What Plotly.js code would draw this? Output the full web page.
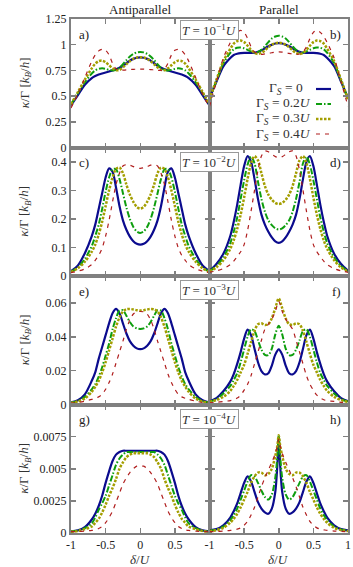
<!DOCTYPE html>
<html>
<head>
<meta charset="utf-8">
<script src="https://cdn.plot.ly/plotly-3.0.1.min.js"></script>
<style>
html,body{margin:0;padding:0;background:#fff;}
#chart{width:353px;height:567px;}
</style>
</head>
<body>
<div id="chart"></div>
<script>
// ---------- data ----------
const X  = [-1,-0.9,-0.8,-0.7,-0.65,-0.6,-0.55,-0.5,-0.45,-0.4,-0.35,-0.3,-0.25,-0.2,-0.15,-0.1,-0.05,0,0.05,0.1,0.15,0.2,0.25,0.3,0.35,0.4,0.45,0.5,0.55,0.6,0.65,0.7,0.8,0.9,1];
const XH = [-1,-0.9,-0.8,-0.7,-0.65,-0.6,-0.55,-0.5,-0.45,-0.4,-0.35,-0.3,-0.25,-0.2,-0.15,-0.1,-0.05,-0.02,0,0.02,0.05,0.1,0.15,0.2,0.25,0.3,0.35,0.4,0.45,0.5,0.55,0.6,0.65,0.7,0.8,0.9,1];

const SERIES_NAMES = ['Γ<sub><i>S</i></sub> = 0','Γ<sub><i>S</i></sub> = 0.2<i>U</i>','Γ<sub><i>S</i></sub> = 0.3<i>U</i>','Γ<sub><i>S</i></sub> = 0.4<i>U</i>'];
const COLUMN_TITLES = ['Antiparallel','Parallel'];
const PANEL_LABELS = ['a)','b)','c)','d)','e)','f)','g)','h)'];
const T_LABELS = ['<i>T</i> = 10<sup>−1</sup><i>U</i>','<i>T</i> = 10<sup>−2</sup><i>U</i>','<i>T</i> = 10<sup>−3</sup><i>U</i>','<i>T</i> = 10<sup>−4</sup><i>U</i>'];
const X_TICKVALS = [-1,-0.5,0,0.5,1];
const X_TICKTEXT_LEFT = ['-1','-0.5','0','0.5',''];
const X_TICKTEXT_RIGHT = ['-1','-0.5','0','0.5','1'];
const Y_RANGES = [[0,1.25],[0,0.45],[0,0.076],[0,0.01]];
const Y_TICKVALS = [[0,0.25,0.5,0.75,1,1.25],[0,0.1,0.2,0.3,0.4],[0,0.02,0.04,0.06],[0,0.0025,0.005,0.0075]];
const Y_TICKTEXT = [['0','0.25','0.5','0.75','1','1.25'],['0','0.1','0.2','0.3','0.4'],['0','0.02','0.04','0.06'],['0','0.0025','0.005','0.0075']];
const Y_TITLE = '<i>κ</i>/Γ [<i>k</i><sub><i>B</i></sub>/<i>h</i>]';
const X_TITLE = '<i>δ</i>/<i>U</i>';

// panel a) antiparallel, T=1e-1
const A_G0 = [0.41,0.51,0.61,0.675,0.695,0.71,0.72,0.73,0.74,0.75,0.76,0.775,0.795,0.82,0.845,0.862,0.873,0.877,0.873,0.862,0.845,0.82,0.795,0.775,0.76,0.75,0.74,0.73,0.72,0.71,0.695,0.675,0.61,0.51,0.41];
const A_G2 = [0.42,0.53,0.635,0.72,0.75,0.765,0.77,0.765,0.755,0.75,0.755,0.775,0.81,0.85,0.885,0.91,0.925,0.93,0.925,0.91,0.885,0.85,0.81,0.775,0.755,0.75,0.755,0.765,0.77,0.765,0.75,0.72,0.635,0.53,0.42];
const A_G3 = [0.42,0.54,0.66,0.77,0.815,0.84,0.845,0.83,0.8,0.77,0.752,0.755,0.78,0.81,0.84,0.862,0.875,0.878,0.875,0.862,0.84,0.81,0.78,0.755,0.752,0.77,0.8,0.83,0.845,0.84,0.815,0.77,0.66,0.54,0.42];
const A_G4 = [0.385,0.52,0.68,0.84,0.9,0.94,0.955,0.945,0.9,0.82,0.765,0.75,0.752,0.755,0.758,0.76,0.762,0.763,0.762,0.76,0.758,0.755,0.752,0.75,0.765,0.82,0.9,0.945,0.955,0.94,0.9,0.84,0.68,0.52,0.385];
// panel b) parallel, T=1e-1
const B_G0 = [0.48,0.64,0.79,0.87,0.9,0.912,0.918,0.92,0.92,0.92,0.922,0.93,0.945,0.965,0.985,1.0,1.012,1.016,1.012,1.0,0.985,0.965,0.945,0.93,0.922,0.92,0.92,0.92,0.918,0.912,0.9,0.87,0.79,0.64,0.48];
const B_G2 = [0.47,0.65,0.82,0.92,0.955,0.97,0.972,0.965,0.95,0.935,0.925,0.93,0.95,0.985,1.025,1.06,1.08,1.088,1.08,1.06,1.025,0.985,0.95,0.93,0.925,0.935,0.95,0.965,0.972,0.97,0.955,0.92,0.82,0.65,0.47];
const B_G3 = [0.47,0.66,0.84,0.96,1.01,1.035,1.04,1.025,0.99,0.95,0.92,0.91,0.92,0.945,0.975,1.0,1.015,1.02,1.015,1.0,0.975,0.945,0.92,0.91,0.92,0.95,0.99,1.025,1.04,1.035,1.01,0.96,0.84,0.66,0.47];
const B_G4 = [0.4,0.64,0.87,1.02,1.08,1.12,1.14,1.12,1.06,0.98,0.93,0.91,0.905,0.91,0.915,0.922,0.928,0.93,0.928,0.922,0.915,0.91,0.905,0.91,0.93,0.98,1.06,1.12,1.14,1.12,1.08,1.02,0.87,0.64,0.4];
// panel c) antiparallel, T=1e-2
const C_G0 = [0.017,0.037,0.08,0.14,0.18,0.235,0.29,0.345,0.377,0.365,0.31,0.245,0.195,0.162,0.138,0.122,0.113,0.11,0.113,0.122,0.138,0.162,0.195,0.245,0.31,0.365,0.377,0.345,0.29,0.235,0.18,0.14,0.08,0.037,0.017];
const C_G2 = [0.015,0.03,0.06,0.105,0.14,0.18,0.235,0.295,0.345,0.374,0.374,0.34,0.29,0.24,0.2,0.172,0.156,0.151,0.156,0.172,0.2,0.24,0.29,0.34,0.374,0.374,0.345,0.295,0.235,0.18,0.14,0.105,0.06,0.03,0.015];
const C_G3 = [0.014,0.027,0.05,0.085,0.11,0.145,0.19,0.245,0.3,0.345,0.375,0.38,0.36,0.32,0.285,0.26,0.242,0.236,0.242,0.26,0.285,0.32,0.36,0.38,0.375,0.345,0.3,0.245,0.19,0.145,0.11,0.085,0.05,0.027,0.014];
const C_G4 = [0.012,0.017,0.025,0.04,0.055,0.072,0.098,0.14,0.195,0.26,0.32,0.36,0.385,0.39,0.388,0.383,0.379,0.377,0.379,0.383,0.388,0.39,0.385,0.36,0.32,0.26,0.195,0.14,0.098,0.072,0.055,0.04,0.025,0.017,0.012];
// panel d) parallel, T=1e-2
const D_G0 = [0.018,0.042,0.078,0.14,0.19,0.25,0.32,0.385,0.42,0.4,0.34,0.27,0.215,0.18,0.155,0.135,0.121,0.116,0.121,0.135,0.155,0.18,0.215,0.27,0.34,0.4,0.42,0.385,0.32,0.25,0.19,0.14,0.078,0.042,0.018];
const D_G2 = [0.017,0.035,0.065,0.115,0.155,0.205,0.27,0.335,0.39,0.418,0.395,0.33,0.27,0.225,0.195,0.178,0.167,0.163,0.167,0.178,0.195,0.225,0.27,0.33,0.395,0.418,0.39,0.335,0.27,0.205,0.155,0.115,0.065,0.035,0.017];
const D_G3 = [0.016,0.03,0.055,0.095,0.125,0.165,0.215,0.275,0.34,0.395,0.42,0.405,0.36,0.315,0.285,0.267,0.256,0.252,0.256,0.267,0.285,0.315,0.36,0.405,0.42,0.395,0.34,0.275,0.215,0.165,0.125,0.095,0.055,0.03,0.016];
const D_G4 = [0.013,0.018,0.026,0.04,0.052,0.068,0.085,0.11,0.16,0.227,0.3,0.37,0.42,0.438,0.435,0.426,0.418,0.415,0.418,0.426,0.435,0.438,0.42,0.37,0.3,0.227,0.16,0.11,0.085,0.068,0.052,0.04,0.026,0.018,0.013];
// panel e) antiparallel, T=1e-3
const E_G0 = [0.0012,0.0025,0.006,0.014,0.019,0.027,0.034,0.041,0.048,0.054,0.0565,0.054,0.048,0.042,0.0375,0.0348,0.0332,0.0327,0.0332,0.0348,0.0375,0.042,0.048,0.054,0.0565,0.054,0.048,0.041,0.034,0.027,0.019,0.014,0.006,0.0025,0.0012];
const E_G2 = [0.0011,0.002,0.0045,0.009,0.012,0.0165,0.022,0.029,0.036,0.0445,0.051,0.0555,0.0558,0.0525,0.0488,0.0462,0.045,0.0447,0.045,0.0462,0.0488,0.0525,0.0558,0.0555,0.051,0.0445,0.036,0.029,0.022,0.0165,0.012,0.009,0.0045,0.002,0.0011];
const E_G3 = [0.001,0.0018,0.0035,0.0075,0.0105,0.014,0.019,0.025,0.032,0.039,0.046,0.0515,0.055,0.0563,0.0565,0.0562,0.0558,0.0556,0.0558,0.0562,0.0565,0.0563,0.055,0.0515,0.046,0.039,0.032,0.025,0.019,0.014,0.0105,0.0075,0.0035,0.0018,0.001];
const E_G4 = [0.0008,0.0012,0.002,0.003,0.0037,0.0045,0.006,0.009,0.013,0.018,0.0245,0.031,0.0375,0.0445,0.05,0.0535,0.0548,0.055,0.0548,0.0535,0.05,0.0445,0.0375,0.031,0.0245,0.018,0.013,0.009,0.006,0.0045,0.0037,0.003,0.002,0.0012,0.0008];
// panel f) parallel, T=1e-3
const F_G0 = [0.0019,0.0038,0.0078,0.0135,0.018,0.024,0.031,0.039,0.0443,0.041,0.033,0.025,0.0198,0.0178,0.0185,0.023,0.0295,0.0326,0.0295,0.023,0.0185,0.0178,0.0198,0.025,0.033,0.041,0.0443,0.039,0.031,0.024,0.018,0.0135,0.0078,0.0038,0.0019];
const F_G2 = [0.0017,0.0032,0.0065,0.011,0.0145,0.0185,0.025,0.0326,0.04,0.0445,0.0435,0.038,0.0325,0.0293,0.0292,0.033,0.0415,0.0466,0.0415,0.033,0.0292,0.0293,0.0325,0.038,0.0435,0.0445,0.04,0.0326,0.025,0.0185,0.0145,0.011,0.0065,0.0032,0.0017];
const F_G3 = [0.0015,0.0026,0.0045,0.008,0.011,0.0145,0.019,0.0235,0.03,0.037,0.0435,0.0475,0.048,0.047,0.0475,0.051,0.057,0.0627,0.057,0.051,0.0475,0.047,0.048,0.0475,0.0435,0.037,0.03,0.0235,0.019,0.0145,0.011,0.008,0.0045,0.0026,0.0015];
const F_G4 = [0.001,0.0013,0.0018,0.0023,0.0028,0.0038,0.0055,0.0085,0.012,0.0171,0.024,0.031,0.038,0.0445,0.0475,0.0505,0.055,0.061,0.055,0.0505,0.0475,0.0445,0.038,0.031,0.024,0.0171,0.012,0.0085,0.0055,0.0038,0.0028,0.0023,0.0018,0.0013,0.001];
// panel g) antiparallel, T=1e-4
const G_G0 = [0.00013,0.0002,0.00045,0.00105,0.0015,0.0021,0.0029,0.0039,0.0048,0.0056,0.0061,0.0063,0.0064,0.0064,0.0064,0.0064,0.0064,0.0064,0.0064,0.0064,0.0064,0.0064,0.0064,0.0063,0.0061,0.0056,0.0048,0.0039,0.0029,0.0021,0.0015,0.00105,0.00045,0.0002,0.00013];
const G_G2 = [0.00012,0.00018,0.00038,0.00075,0.0012,0.0018,0.0023,0.0029,0.0037,0.0045,0.0053,0.0058,0.0061,0.0063,0.0063,0.0063,0.0063,0.0063,0.0063,0.0063,0.0063,0.0063,0.0061,0.0058,0.0053,0.0045,0.0037,0.0029,0.0023,0.0018,0.0012,0.00075,0.00038,0.00018,0.00012];
const G_G3 = [0.0001,0.00015,0.0003,0.0005,0.0008,0.0011,0.0016,0.0022,0.0029,0.0035,0.0042,0.005,0.0055,0.0059,0.0061,0.0062,0.0062,0.0062,0.0062,0.0062,0.0061,0.0059,0.0055,0.005,0.0042,0.0035,0.0029,0.0022,0.0016,0.0011,0.0008,0.0005,0.0003,0.00015,0.0001];
const G_G4 = [0.0001,0.00012,0.00015,0.0002,0.00025,0.00035,0.0005,0.0008,0.0012,0.0017,0.0024,0.0031,0.0038,0.0043,0.0047,0.005,0.0052,0.0052,0.0052,0.005,0.0047,0.0043,0.0038,0.0031,0.0024,0.0017,0.0012,0.0008,0.0005,0.00035,0.00025,0.0002,0.00015,0.00012,0.0001];
// panel h) parallel, T=1e-4 (on XH)
const H_G0 = [0.0002,0.0003,0.0006,0.0012,0.0017,0.0023,0.0031,0.0039,0.0044,0.004,0.0032,0.0024,0.0019,0.0016,0.0015,0.0019,0.0032,0.0053,0.0074,0.0053,0.0032,0.0019,0.0015,0.0016,0.0019,0.0024,0.0032,0.004,0.0044,0.0039,0.0031,0.0023,0.0017,0.0012,0.0006,0.0003,0.0002];
const H_G2 = [0.00018,0.00028,0.0005,0.001,0.0014,0.0019,0.0026,0.0033,0.004,0.0045,0.0044,0.0039,0.0033,0.0028,0.0026,0.003,0.0043,0.006,0.0076,0.006,0.0043,0.003,0.0026,0.0028,0.0033,0.0039,0.0044,0.0045,0.004,0.0033,0.0026,0.0019,0.0014,0.001,0.0005,0.00028,0.00018];
const H_G3 = [0.00015,0.00022,0.0004,0.0008,0.0011,0.0015,0.002,0.0026,0.0032,0.0039,0.0044,0.0047,0.0047,0.0045,0.0046,0.005,0.006,0.0068,0.0076,0.0068,0.006,0.005,0.0046,0.0045,0.0047,0.0047,0.0044,0.0039,0.0032,0.0026,0.002,0.0015,0.0011,0.0008,0.0004,0.00022,0.00015];
const H_G4 = [0.0001,0.00012,0.00015,0.0002,0.00025,0.0003,0.0004,0.0006,0.0009,0.0014,0.002,0.0028,0.0036,0.0043,0.0049,0.0055,0.0062,0.0068,0.0073,0.0068,0.0062,0.0055,0.0049,0.0043,0.0036,0.0028,0.002,0.0014,0.0009,0.0006,0.0004,0.0003,0.00025,0.0002,0.00015,0.00012,0.0001];

// ---------- build ----------
const PANELS = [
  {x:X,  ys:[A_G0,A_G2,A_G3,A_G4]},
  {x:X,  ys:[B_G0,B_G2,B_G3,B_G4]},
  {x:X,  ys:[C_G0,C_G2,C_G3,C_G4]},
  {x:X,  ys:[D_G0,D_G2,D_G3,D_G4]},
  {x:X,  ys:[E_G0,E_G2,E_G3,E_G4]},
  {x:X,  ys:[F_G0,F_G2,F_G3,F_G4]},
  {x:X,  ys:[G_G0,G_G2,G_G3,G_G4]},
  {x:XH, ys:[H_G0,H_G2,H_G3,H_G4]}
];

const STYLES = [
  {color:'#0b0b8e', width:2.2, dash:'solid'},
  {color:'#0e9e0e', width:2,   dash:'6px,2px,1.5px,2px'},
  {color:'#a39e00', width:2.5, dash:'2.5px,1.5px'},
  {color:'#b01e1e', width:1.2, dash:'4px,5px'}
];

const W = 353, H = 567;
const M = {l:71, r:5, t:19, b:34};
const PW = W - M.l - M.r, PH = H - M.t - M.b;
const px = v => (v - M.l) / PW;
const py = v => (H - M.b - v) / PH;
const rowTop = r => M.t + r * PH / 4;

const SERIF = 'Liberation Serif, Times New Roman, serif';
const AX = '#808080';

const traces = [];
const layout = {
  width: W, height: H,
  margin: {l:M.l, r:M.r, t:M.t, b:M.b, pad:0},
  paper_bgcolor:'#fff', plot_bgcolor:'rgba(0,0,0,0)',
  showlegend:false,
  font:{family:SERIF, size:12, color:'#222'},
  annotations:[], shapes:[]
};

PANELS.forEach((p, i) => {
  const r = Math.floor(i/2), c = i % 2;
  const sfx = i === 0 ? '' : String(i+1);
  p.ys.forEach((y, k) => {
    traces.push({
      type:'scatter', mode:'lines', x:p.x, y:y,
      xaxis:'x'+sfx, yaxis:'y'+sfx,
      line:{color:STYLES[k].color, width:STYLES[k].width, dash:STYLES[k].dash, shape:'spline', smoothing:0.8},
      hoverinfo:'skip'
    });
  });
  layout['xaxis'+sfx] = {
    domain: c === 0 ? [0,0.5] : [0.5,1],
    anchor:'y'+sfx, range:[-1,1], fixedrange:true,
    tickmode:'array', tickvals:X_TICKVALS,
    ticktext: c === 0 ? X_TICKTEXT_LEFT : X_TICKTEXT_RIGHT,
    showticklabels: r === 3,
    ticks:'inside', ticklen:5, tickwidth:1.5, tickcolor:AX,
    showline:true, linecolor:AX, linewidth:2, mirror:'ticks',
    showgrid:false, zeroline:false,
    tickfont:{family:SERIF, size:12, color:'#222'}
  };
  layout['yaxis'+sfx] = {
    domain:[1-(r+1)/4, 1-r/4],
    anchor:'x'+sfx, range:Y_RANGES[r], fixedrange:true,
    tickmode:'array', tickvals:Y_TICKVALS[r], ticktext:Y_TICKTEXT[r],
    showticklabels: c === 0,
    ticks:'inside', ticklen:5, tickwidth:1.5, tickcolor:AX,
    showline:true, linecolor:AX, linewidth:2, mirror:'ticks',
    showgrid:false, zeroline:false,
    tickfont:{family:SERIF, size:12, color:'#222'}
  };
  // panel letter
  layout.annotations.push({
    xref:'paper', yref:'paper',
    x: c === 0 ? px(77) : px(343), xanchor: c === 0 ? 'left' : 'right',
    y: py(rowTop(r) + 15), yanchor:'middle',
    text: PANEL_LABELS[i], showarrow:false,
    font:{family:SERIF, size:13, color:'#222'}
  });
});

// T boxes and y titles per row
for (let r = 0; r < 4; r++) {
  layout.annotations.push({
    xref:'paper', yref:'paper', x:0.5, xanchor:'center',
    y: py(rowTop(r) + (r === 0 ? 11 : 14)), yanchor:'middle',
    text: T_LABELS[r], showarrow:false,
    bordercolor:'#999', borderwidth:1, borderpad:1, bgcolor:'#ffffff',
    font:{family:SERIF, size:13, color:'#333'}
  });
  layout.annotations.push({
    xref:'paper', yref:'paper', x:px(25), xanchor:'center',
    y: py(rowTop(r) + PH/8), yanchor:'middle', textangle:-90,
    text: Y_TITLE, showarrow:false,
    font:{family:SERIF, size:13, color:'#333'}
  });
}

// column titles and x titles
COLUMN_TITLES.forEach((t, c) => {
  layout.annotations.push({
    xref:'paper', yref:'paper', x: c === 0 ? 0.25 : 0.75, xanchor:'center',
    y: py(9), yanchor:'middle', text:t, showarrow:false,
    font:{family:SERIF, size:13, color:'#222'}
  });
  layout.annotations.push({
    xref:'paper', yref:'paper', x: c === 0 ? 0.25 : 0.75, xanchor:'center',
    y: py(559), yanchor:'middle', text:X_TITLE, showarrow:false,
    font:{family:SERIF, size:13, color:'#333'}
  });
});

// legend inside panel b
const LEG_Y = [89, 104, 119, 134];
const LEG_TX = [305, 313, 313, 313];
SERIES_NAMES.forEach((name, k) => {
  layout.annotations.push({
    xref:'paper', yref:'paper', x:px(LEG_TX[k]), xanchor:'right',
    y:py(LEG_Y[k]), yanchor:'middle', text:name, showarrow:false,
    font:{family:SERIF, size:13.5, color:'#333'}
  });
  layout.shapes.push({
    type:'line', xref:'paper', yref:'paper',
    x0:px(316), x1:px(331), y0:py(LEG_Y[k]), y1:py(LEG_Y[k]),
    line:{color:STYLES[k].color, width:STYLES[k].width, dash:STYLES[k].dash}
  });
});

Plotly.newPlot('chart', traces, layout, {staticPlot:true, displayModeBar:false});
</script>
</body>
</html>
